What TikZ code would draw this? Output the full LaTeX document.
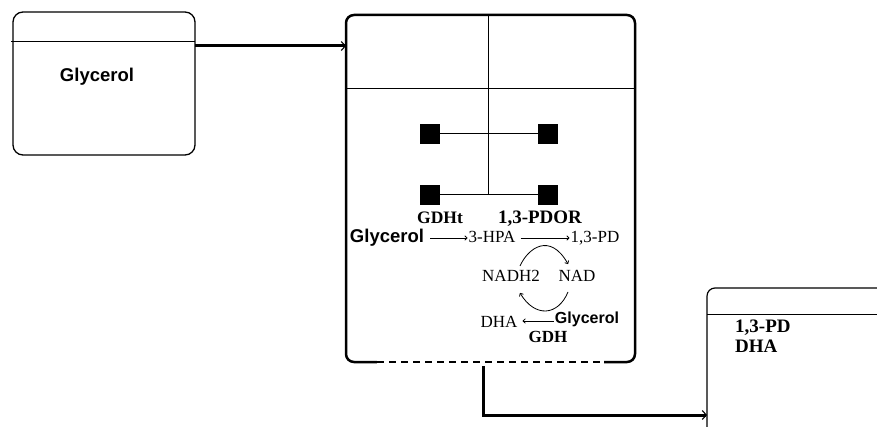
\documentclass[tikz,border=0pt]{standalone}
\usepackage{fontspec}
\setmainfont{Liberation Serif}
\setsansfont{Liberation Sans}
\usetikzlibrary{arrows.meta,calc}
\begin{document}
\begin{tikzpicture}[x=1pt,y=-1pt,
  thinline/.style={line width=1pt},
  conn/.style={line width=3pt,-{Straight Barb[length=4pt,width=9pt,line width=1.1pt]}},
  rxn/.style={line width=0.8pt,-{To[length=3pt,width=5pt]}},
  sq/.style={fill=black,minimum size=20pt,inner sep=0pt},
  lbl/.style={font=\fontsize{17}{19}\selectfont,inner sep=0pt,anchor=base},
  blbl/.style={font=\bfseries\fontsize{17.5}{19}\selectfont,inner sep=0pt,anchor=base},
  slbl/.style={font=\sffamily\bfseries\fontsize{16}{18}\selectfont,inner sep=0pt,anchor=base}]
\useasboundingbox (0,0) rectangle (877,427);
% left box
\node[draw,line width=1.3pt,rounded corners=10pt,minimum width=182pt,minimum height=143pt,inner sep=0pt] (src) at (104,83.5) {};
\draw[thinline] (11,42) -- (195,42);
\node[font=\sffamily\bfseries\fontsize{18.5}{20}\selectfont,inner sep=0pt,anchor=base] (glyA) at (97,82) {Glycerol};
% middle box
\node[draw,line width=2.5pt,rounded corners=8pt,minimum width=289pt,minimum height=347pt,inner sep=0pt] (cell) at (490.5,188.5) {};
\draw[white,line width=3.5pt] (377,362) -- (604,362);
\draw[line width=2.5pt,dash pattern=on 7pt off 5pt] (377,362) -- (604,362);
\draw[thinline] (347,89) -- (634,89);
\draw[thinline] (488,15) -- (488,195);
% squares
\node[sq] (s1) at (430,134) {};
\node[sq] (s2) at (548,134) {};
\node[sq] (s3) at (430,195) {};
\node[sq] (s4) at (548,195) {};
\draw[thinline] (s1) -- (s2);
\draw[thinline] (s3) -- (s4);
\node[blbl] (gdht) at (440,224) {GDHt};
\node[blbl,font=\bfseries\fontsize{19}{20}\selectfont] (pdor) at (540,224) {1,3-PDOR};
% reactions
\coordinate (rowy) at (0,238);
\node[slbl,font=\sffamily\bfseries\fontsize{18.5}{20}\selectfont] (gly) at (387,243) {Glycerol};
\node[lbl] (hpa) at (492,243) {3-HPA};
\node[lbl] (pd) at (595,243) {1,3-PD};
\draw[rxn] ([xshift=6pt]gly.east |- rowy) -- ([xshift=-1pt]hpa.west |- rowy);
\draw[rxn] ([xshift=5pt]hpa.east |- rowy) -- ([xshift=-1pt]pd.west |- rowy);
\node[lbl] (nadh) at (511,282) {NADH2};
\node[lbl] (nad) at (577,282) {NAD};
\draw[rxn] (520,266) .. controls (528,248) and (550,232) .. (568,264);
\draw[rxn] (568,292) .. controls (558,316) and (535,318) .. (520,293);
\node[lbl] (dha) at (499,327) {DHA};
\node[slbl] (gly2) at (587,323) {Glycerol};
\node[blbl,font=\bfseries\fontsize{17}{19}\selectfont] (gdh) at (548,342) {GDH};
\coordinate (lowy) at (0,321);
\draw[rxn] ([xshift=-1pt]gly2.west |- lowy) -- ([xshift=5pt]dha.east |- lowy);
% right box
\draw[line width=1.2pt] (707,427) -- (707,296) arc[start angle=180,end angle=90,radius=8pt] -- (877,288);
\draw[thinline] (707,314) -- (877,314);
\node[font=\bfseries\fontsize{19}{21}\selectfont,inner sep=0pt,anchor=base west] (out1) at (735,332) {1,3-PD};
\node[font=\bfseries\fontsize{19}{21}\selectfont,inner sep=0pt,anchor=base west] (out2) at (735,352) {DHA};
% connectors
\coordinate (c1s) at (195,46);
\coordinate (c1t) at (346,46);
\draw[conn] (c1s) -- (c1t);
\coordinate (c2s) at (483,366);
\coordinate (c2t) at (707,415);
\draw[conn] (c2s) |- (c2t);
\end{tikzpicture}
\end{document}
